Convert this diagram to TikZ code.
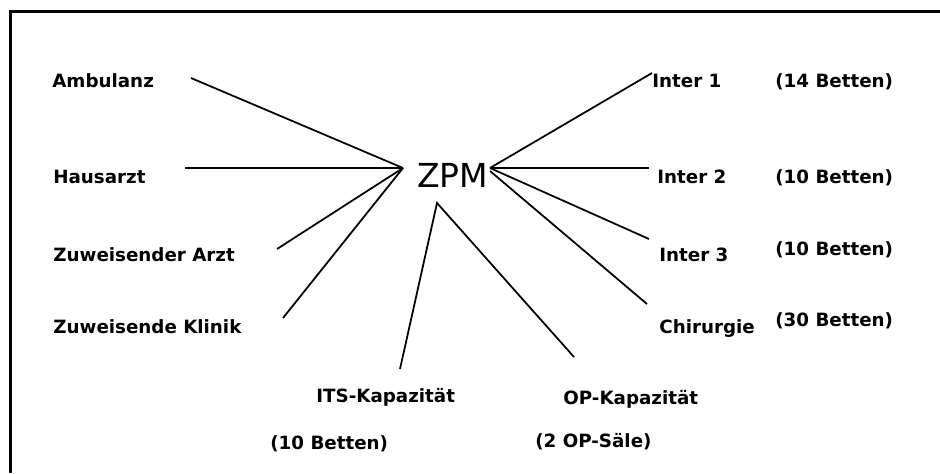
\documentclass[tikz,border=0pt]{standalone}
\usepackage{fontspec}
\setmainfont{DejaVu Sans}
\usetikzlibrary{positioning}

\begin{document}
\begin{tikzpicture}[
  lbl/.style={inner sep=0pt, anchor=base west,
              font=\bfseries\fontsize{10.4}{12}\selectfont},
  hub/.style={inner sep=0pt, anchor=base west,
              font=\fontsize{18.8}{22}\selectfont},
  link/.style={line width=1pt},
  frame/.style={line width=0.055cm}
]
\useasboundingbox (0,0) rectangle (18.8,9.46);
\draw[frame] (0.21,0) -- (0.21,9.23) -- (18.8,9.23);

\node[hub] (zpm) at (8.34,5.72) {ZPM};

\node[lbl] (amb)  at (1.04,7.72) {Ambulanz};
\node[lbl] (haus) at (1.06,5.80) {Hausarzt};
\node[lbl] (zarzt) at (1.06,4.24) {Zuweisender Arzt};
\node[lbl] (zkli) at (1.06,2.80) {Zuweisende Klinik};

\node[lbl] (its)    at (6.32,1.42) {ITS-Kapazität};
\node[lbl] (itsbed) at (5.40,0.48) {(10 Betten)};
\node[lbl] (op)     at (11.26,1.38) {OP-Kapazität};
\node[lbl] (opsaal) at (10.70,0.52) {(2 OP-Säle)};

\node[lbl] (int1) at (13.04,7.72) {Inter 1};
\node[lbl] (bed1) at (15.50,7.72) {(14 Betten)};
\node[lbl] (int2) at (13.14,5.80) {Inter 2};
\node[lbl] (bed2) at (15.50,5.80) {(10 Betten)};
\node[lbl] (int3) at (13.18,4.24) {Inter 3};
\node[lbl] (bed3) at (15.50,4.36) {(10 Betten)};
\node[lbl] (chir) at (13.18,2.80) {Chirurgie};
\node[lbl] (bed4) at (15.50,2.94) {(30 Betten)};

% meeting points of the spokes
\coordinate (hubL) at (8.06,6.10);
\coordinate (hubR) at (9.80,6.10);
\coordinate (apex) at (8.74,5.40);

% free ends next to the labels
\coordinate (amb-e)   at (3.82,7.90);
\coordinate (haus-e)  at (3.70,6.10);
\coordinate (zarzt-e) at (5.54,4.48);
\coordinate (zkli-e)  at (5.66,3.10);
\coordinate (its-e)   at (8.00,2.08);
\coordinate (op-e)    at (11.48,2.32);
\coordinate (int1-e)  at (13.04,8.00);
\coordinate (int2-e)  at (12.98,6.10);
\coordinate (int3-e)  at (12.98,4.68);
\coordinate (chir-e)  at (12.94,3.38);

\draw[link] (amb-e) -- (hubL);
\draw[link] (haus-e) -- (hubL);
\draw[link] (zarzt-e) -- (hubL);
\draw[link] (zkli-e) -- (hubL);
\draw[link] (its-e) -- (apex) -- (op-e);
\draw[link] (hubR) -- (int1-e);
\draw[link] (hubR) -- (int2-e);
\draw[link] (hubR) -- (int3-e);
\draw[link] ([yshift=-0.06cm]hubR) -- (chir-e);
\end{tikzpicture}
\end{document}
